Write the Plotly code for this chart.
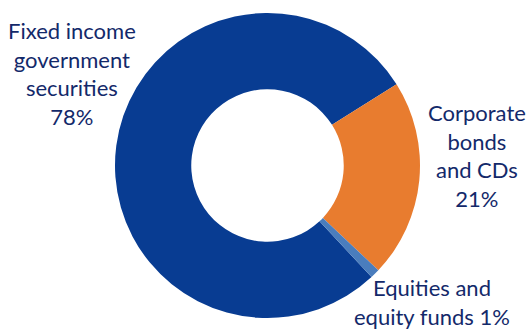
import plotly.graph_objects as go

categories = ["Fixed income government securities", "Corporate bonds and CDs", "Equities and equity funds"]
shares = [78, 21, 1]
label_texts = [
    "Fixed income<br>government<br>securities<br>78%",
    "Corporate<br>bonds<br>and CDs<br>21%",
    "Equities and<br>equity funds 1%",
]
colors = ["#083C92", "#E87C2F", "#4A7DBD"]
text_color = "#13296A"

W, H = 527, 330
fig = go.Figure()
fig.add_trace(go.Pie(
    labels=categories,
    values=shares,
    hole=0.5,
    sort=False,
    direction="clockwise",
    rotation=137,
    marker=dict(colors=colors, line=dict(width=0)),
    textinfo="none",
    hoverinfo="label+percent",
    showlegend=False,
    domain=dict(x=[115 / W, 420 / W], y=[12 / H, 317 / H]),
))

label_pos = [(72, 73), (477, 155.5), (432, 301.5)]
for txt, (px, py) in zip(label_texts, label_pos):
    fig.add_annotation(
        text=txt, x=px / W, y=1 - py / H, xref="paper", yref="paper",
        xanchor="center", yanchor="middle", showarrow=False, align="center",
        font=dict(family="Tahoma, Lato, sans-serif", size=22, color=text_color),
    )

fig.update_layout(
    width=W, height=H,
    margin=dict(l=0, r=0, t=0, b=0),
    paper_bgcolor="white", plot_bgcolor="white",
)
fig.write_html("out.html")
